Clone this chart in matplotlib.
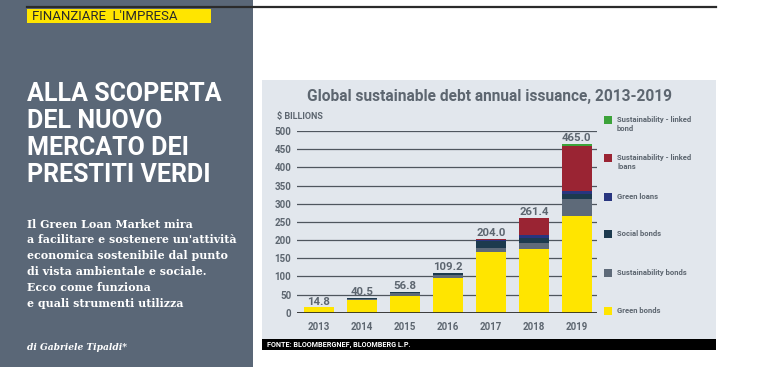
import matplotlib
matplotlib.use('Agg')
import matplotlib.pyplot as plt
from matplotlib.patches import Rectangle
import numpy as np

# data
years = ['2013', '2014', '2015', '2016', '2017', '2018', '2019']
totals = [14.8, 40.5, 56.8, 109.2, 204.0, 261.4, 465.0]
green_bonds = [14.8, 36.0, 47.0, 95.0, 168.0, 176.0, 265.0]
sustainability_bonds = [0, 3.0, 6.0, 10.0, 10.0, 17.0, 48.0]
social_bonds = [0, 1.5, 3.8, 4.2, 20.0, 12.0, 15.0]
green_loans = [0, 0, 0, 0, 1.0, 10.0, 8.0]
sl_loans = [0, 0, 0, 0, 5.0, 46.4, 123.0]
sl_bonds = [0, 0, 0, 0, 0, 0, 6.0]

series = [
    ('Green bonds', green_bonds, '#ffe500'),
    ('Sustainability bonds', sustainability_bonds, '#5e6a79'),
    ('Social bonds', social_bonds, '#1c3a4e'),
    ('Green loans', green_loans, '#28357f'),
    ('Sustainability - linked\nloans', sl_loans, '#9a2433'),
    ('Sustainability - linked\nbond', sl_bonds, '#3ca33a'),
]

W, H = 770, 367
fig = plt.figure(figsize=(W / 100, H / 100), dpi=100)
fig.patch.set_facecolor('white')

def px(x, y):
    return x / W, 1 - y / H

gray_txt = '#5d6670'
sans = ['Roboto', 'DejaVu Sans']
serif = ['DejaVu Serif']

# left panel
fig.patches.append(Rectangle((0, 0), 253 / W, 1, transform=fig.transFigure,
                             facecolor='#5a6777', edgecolor='none', zorder=-5))
# top rule
fig.add_artist(plt.Line2D([27 / W, 716 / W], [1 - 6.5 / H] * 2, color='#2b2b2b', lw=1.6))
# yellow tag
fig.patches.append(Rectangle(px(27, 23), 184 / W, 14 / H, transform=fig.transFigure,
                             facecolor='#ffe500', edgecolor='none', zorder=-4))
fig.text(*px(32, 16), "FINANZIARE  L'IMPRESA", fontsize=9.5, color='#2a2a2a',
         va='center', ha='left', family=sans)

# headline
for i, line in enumerate(['ALLA SCOPERTA', 'DEL NUOVO', 'MERCATO DEI', 'PRESTITI VERDI']):
    fig.text(*px(27, 94 + i * 27), line, fontsize=18, color='white', fontweight='bold',
             va='center', ha='left', family=sans)

body = ['Il Green Loan Market mira', "a facilitare e sostenere un'attività",
        'economica sostenibile dal punto', 'di vista ambientale e sociale.',
        'Ecco come funziona', 'e quali strumenti utilizza']
for i, line in enumerate(body):
    fig.text(*px(27, 224 + i * 15.9), line, fontsize=7.9, color='white', fontweight='bold',
             va='center', ha='left', family=serif)
fig.text(*px(27, 347), 'di Gabriele Tipaldi*', fontsize=6.6, color='white', fontweight='bold',
         style='italic', va='center', ha='left', family=serif)

# chart panel + footer
fig.patches.append(Rectangle(px(262, 339), (716 - 262) / W, (339 - 80) / H,
                             transform=fig.transFigure, facecolor='#e2e7ed', edgecolor='none',
                             zorder=-5))
fig.patches.append(Rectangle(px(262, 350), (716 - 262) / W, 11 / H,
                             transform=fig.transFigure, facecolor='black', edgecolor='none',
                             zorder=-5))
fig.text(*px(267, 344.5), 'FONTE: BLOOMBERGNEF, BLOOMBERG L.P.', fontsize=5.2, color='white',
         fontweight='bold', va='center', ha='left', family=sans)

fig.text(*px(489, 96), 'Global sustainable debt annual issuance, 2013-2019', fontsize=11.2,
         color=gray_txt, fontweight='bold', va='center', ha='center', family=sans)
fig.text(*px(277, 116), '$ BILLIONS', fontsize=6.5, color=gray_txt, fontweight='bold',
         va='center', ha='left', family=sans)

# bars
x0, y0, x1, y1 = 297, 312.7, 597, 131
ax = fig.add_axes([x0 / W, 1 - y0 / H, (x1 - x0) / W, (y0 - y1) / H])
ax.set_zorder(5)
ax.set_facecolor('none')
x = np.arange(len(years))
bottom = np.zeros(len(years))
for name, vals, col in series:
    ax.bar(x, vals, 0.69, bottom=bottom, color=col, zorder=3)
    bottom += np.array(vals)
for xi, t in zip(x, totals):
    ax.text(xi, t + 2, f'{t:.1f}', ha='center', va='bottom', fontsize=8.2, color=gray_txt,
            fontweight='bold', family=sans, zorder=6)
ax.set_xlim(-0.51, 6.47)
ax.set_ylim(0, 500)
ax.set_yticks(range(0, 501, 50))
ax.grid(axis='y', color='#4f565e', lw=0.9, zorder=1)
ax.axhline(0, color='#222222', lw=1.2, zorder=4)
for s in ax.spines.values():
    s.set_visible(False)
ax.set_xticks(x)
ax.set_xticklabels(years)
ax.tick_params(length=0, labelsize=7, labelcolor=gray_txt)
ax.tick_params(axis='y', pad=4)
ax.tick_params(axis='x', pad=7)
for lab in ax.get_xticklabels() + ax.get_yticklabels():
    lab.set_fontweight('bold')
    lab.set_family(sans)

# legend
leg_y = [311, 273, 234, 197, 158, 120]
for (name, vals, col), yy in zip(series, leg_y):
    fig.patches.append(Rectangle(px(604, yy + 4), 8 / W, 8 / H, transform=fig.transFigure,
                                 facecolor=col, edgecolor='none'))
    fig.text(*px(617, yy - 4), name, fontsize=5.5, color=gray_txt, fontweight='bold',
             va='top', ha='left', linespacing=1.3, family=sans)

fig.savefig('out.png', dpi=100)
